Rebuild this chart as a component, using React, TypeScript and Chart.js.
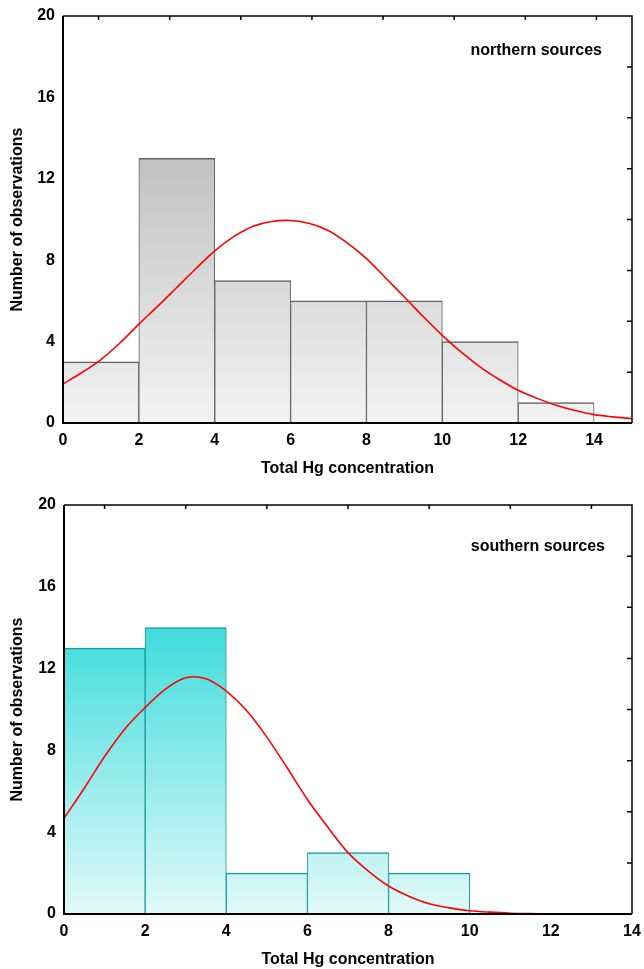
import { useEffect, useRef } from 'react'
import { Chart, registerables } from 'chart.js'

Chart.register(...registerables)

const FONT = '"Liberation Sans", Arial, Helvetica, sans-serif'

// bin centres (bins are 2 units wide) and counts
const northBins = [1, 3, 5, 7, 9, 11, 13]
const northCounts = [3, 13, 7, 6, 6, 4, 1]
const southBins = [1, 3, 5, 7, 9]
const southCounts = [13, 14, 2, 3, 2]

// fitted normal curves, every half unit
const northCurveX = [0, 0.5, 1, 1.5, 2, 2.5, 3, 3.5, 4, 4.5, 5, 5.5, 6, 6.5, 7, 7.5, 8, 8.5, 9, 9.5, 10, 10.5, 11, 11.5, 12, 12.5, 13, 13.5, 14, 14.5, 15]
const northCurveY = [
  1.92, 2.48, 3.12, 3.93, 4.86, 5.74, 6.66, 7.58, 8.46, 9.16, 9.66, 9.9, 9.95, 9.8, 9.45, 8.84, 8.08, 7.14, 6.19,
  5.22, 4.31, 3.48, 2.75, 2.14, 1.61, 1.21, 0.87, 0.61, 0.41, 0.3, 0.21,
]
const southCurveX = [0, 0.5, 1, 1.5, 2, 2.5, 3, 3.5, 4, 4.5, 5, 5.5, 6, 6.5, 7, 7.5, 8, 8.5, 9, 9.5, 10, 10.5, 11, 11.5, 12, 12.5, 13, 13.5, 14]
const southCurveY = [
  4.68, 6.15, 7.7, 9.05, 10.1, 11.0, 11.55, 11.5, 10.9, 9.95, 8.65, 7.15, 5.6, 4.25, 3.0, 2.1, 1.37, 0.87, 0.5, 0.3,
  0.16, 0.09, 0.04, 0.02, 0.01, 0, 0, 0, 0,
]

const xTickValues = [0, 2, 4, 6, 8, 10, 12, 14]
const yTickValues = [0, 4, 8, 12, 16, 20]

/** frame, inner ticks on top/right, and the corner label */
const framePlugin = {
  id: 'frame',
  afterDatasetsDraw(chart: any, _args: any, opts: any) {
    const { ctx, chartArea: a } = chart
    ctx.save()
    ctx.strokeStyle = '#000'
    ctx.lineWidth = 1.5
    ctx.beginPath()
    ctx.moveTo(a.left, a.top)
    ctx.lineTo(a.right, a.top)
    ctx.lineTo(a.right, a.bottom)
    const w = a.right - a.left
    const h = a.bottom - a.top
    for (let k = 0; k < opts.topTicks; k++) {
      const x = a.left + ((k + 0.5) * w) / opts.topTicks
      ctx.moveTo(x, a.top)
      ctx.lineTo(x, a.top + 4)
    }
    for (let k = 1; k < 8; k++) {
      const y = a.top + (k * h) / 8
      ctx.moveTo(a.right, y)
      ctx.lineTo(a.right - 5, y)
    }
    ctx.stroke()
    ctx.lineWidth = 2
    ctx.beginPath()
    ctx.moveTo(a.left, a.top)
    ctx.lineTo(a.left, a.bottom)
    ctx.lineTo(a.right, a.bottom)
    ctx.stroke()
    ctx.font = `bold 16px ${FONT}`
    ctx.fillStyle = '#000'
    ctx.textAlign = 'right'
    ctx.textBaseline = 'middle'
    ctx.fillText(opts.text, a.right - opts.dx, a.top + opts.dy)
    ctx.restore()
  },
}

interface PanelProps {
  height: number
  bins: number[]
  counts: number[]
  curveX: number[]
  curveY: number[]
  xMax: number
  label: string
  labelDx: number
  labelDy: number
  topTicks: number
  colTop: string
  colBottom: string
  border: string
  padTop: number
  axisW: number
  axisH: number
  titlePad: number
}

function HistPanel(p: PanelProps) {
  const canvasRef = useRef<HTMLCanvasElement>(null)
  const chartRef = useRef<Chart | null>(null)

  useEffect(() => {
    if (!canvasRef.current) return
    const ctx = canvasRef.current.getContext('2d')
    if (!ctx) return
    if (chartRef.current) {
      chartRef.current.destroy()
      chartRef.current = null
    }
    const gradTop = Math.max(...p.counts)

    chartRef.current = new Chart(ctx, {
      type: 'bar',
      data: {
        datasets: [
          {
            type: 'line',
            data: p.curveX.map((x, i) => ({ x, y: p.curveY[i] })),
            borderColor: '#ff0000',
            borderWidth: 1.6,
            pointRadius: 0,
            tension: 0.3,
            fill: false,
            order: 0,
          } as any,
          {
            type: 'bar',
            data: p.bins.map((x, i) => ({ x, y: p.counts[i] })),
            backgroundColor: (c: any) => {
              const chart = c.chart
              const y = chart.scales.y
              if (!chart.chartArea || !y) return p.colBottom
              const g = chart.ctx.createLinearGradient(0, y.getPixelForValue(0), 0, y.getPixelForValue(gradTop))
              g.addColorStop(0, p.colBottom)
              g.addColorStop(1, p.colTop)
              return g
            },
            borderColor: p.border,
            borderWidth: { top: 1.5, left: 1, right: 1, bottom: 0 },
            borderSkipped: 'start',
            barPercentage: 1,
            categoryPercentage: 1,
            order: 1,
          } as any,
        ],
      },
      options: {
        animation: false,
        responsive: false,
        layout: { padding: { top: p.padTop, right: 12, left: 0, bottom: 0 } },
        plugins: {
          legend: { display: false },
          tooltip: { enabled: false },
          frame: { text: p.label, dx: p.labelDx, dy: p.labelDy, topTicks: p.topTicks },
        } as any,
        scales: {
          x: {
            type: 'linear',
            min: 0,
            max: p.xMax,
            offset: false,
            grid: { display: false, drawTicks: false },
            border: { display: false },
            afterBuildTicks: (s: any) => {
              s.ticks = xTickValues.map((value) => ({ value }))
            },
            afterFit: (s: any) => {
              s.height = p.axisH
              s.paddingLeft = 0
              s.paddingRight = 0
            },
            ticks: { color: '#000', padding: 8, font: { family: FONT, size: 16, weight: 'bold' } },
            title: {
              display: true,
              text: 'Total Hg concentration',
              color: '#000',
              font: { family: FONT, size: 16, weight: 'bold' },
              padding: { top: 0, bottom: p.titlePad },
            },
          },
          y: {
            min: 0,
            max: 20,
            grid: { display: false, drawTicks: false },
            border: { display: false },
            afterBuildTicks: (s: any) => {
              s.ticks = yTickValues.map((value) => ({ value }))
            },
            afterFit: (s: any) => {
              s.width = p.axisW
              s.paddingTop = 0
              s.paddingBottom = 0
            },
            ticks: { color: '#000', padding: 8, font: { family: FONT, size: 16, weight: 'bold' } },
            title: {
              display: true,
              text: 'Number of observations',
              color: '#000',
              font: { family: FONT, size: 16, weight: 'bold' },
              padding: { top: 8, bottom: 0 },
            },
          },
        },
      },
      plugins: [framePlugin],
    })

    return () => {
      if (chartRef.current) {
        chartRef.current.destroy()
        chartRef.current = null
      }
    }
  }, [])

  return <canvas ref={canvasRef} width={644} height={p.height} style={{ display: 'block' }} />
}

export default function App() {
  return (
    <div style={{ position: 'absolute', left: 0, top: 0, width: 644, height: 969, background: '#fff' }}>
      <HistPanel
        height={490}
        bins={northBins}
        counts={northCounts}
        curveX={northCurveX}
        curveY={northCurveY}
        xMax={15}
        label="northern sources"
        labelDx={30}
        labelDy={35}
        topTicks={8}
        colTop="#c2c2c2"
        colBottom="#f3f3f3"
        border="#606060"
        padTop={16}
        axisW={63}
        axisH={67}
        titlePad={12}
      />
      <HistPanel
        height={479}
        bins={southBins}
        counts={southCounts}
        curveX={southCurveX}
        curveY={southCurveY}
        xMax={14}
        label="southern sources"
        labelDx={27}
        labelDy={42}
        topTicks={7}
        colTop="#40dcdc"
        colBottom="#e2f9f9"
        border="#179a9a"
        padTop={15}
        axisW={64}
        axisH={55}
        titlePad={0}
      />
    </div>
  )
}
